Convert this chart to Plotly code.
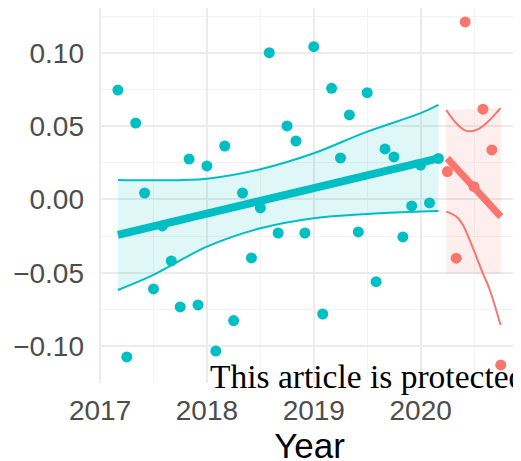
import plotly.graph_objects as go

# ---- data ----
teal_months = list(range(2, 39))  # month index from Jan 2017
teal_values = [0.0747, -0.1075, 0.0522, 0.0044, -0.0611, -0.0181, -0.0420, -0.0734,
               0.0276, -0.0720, 0.0229, -0.1035, 0.0365, -0.0827, 0.0044, -0.0399,
               -0.0058, 0.1002, -0.0229, 0.0502, 0.0399, -0.0229, 0.1043, -0.0782,
               0.0759, 0.0283, 0.0577, -0.0222, 0.0729, -0.0561, 0.0345, 0.0290,
               -0.0256, -0.0044, 0.0235, -0.0024, 0.0280]
red_months = list(range(39, 46))
red_values = [0.0190, -0.0401, 0.1212, 0.0087, 0.0616, 0.0338, -0.1130]

teal_fit_x = [2017.167, 2020.167]
teal_fit_y = [-0.0242, 0.0281]
teal_ci_x = [2017.167, 2017.5, 2018.0, 2018.5, 2019.0, 2019.5, 2020.0, 2020.167]
teal_ci_upper = [0.0133, 0.0131, 0.0142, 0.0206, 0.0315, 0.0463, 0.0589, 0.0645]
teal_ci_lower = [-0.0618, -0.0515, -0.0322, -0.0197, -0.0128, -0.0099, -0.0083, -0.0078]

red_fit_x = [2020.25, 2020.75]
red_fit_y = [0.0281, -0.0117]
red_up_x = [2020.24, 2020.334, 2020.427, 2020.521, 2020.614, 2020.748]
red_ci_upper = [0.0611, 0.0520, 0.0468, 0.0474, 0.0520, 0.0623]
red_lo_x = [2020.24, 2020.334, 2020.396, 2020.458, 2020.521, 2020.582, 2020.645, 2020.748]
red_ci_lower = [-0.0083, -0.0117, -0.0174, -0.0276, -0.0390, -0.0504, -0.0613, -0.0857]
red_band_x = [2020.24, 2020.75]
red_band_top = [0.0611, 0.0623]
red_band_bottom = [-0.0509, -0.0509]

y_tickvals = [-0.10, -0.05, 0.0, 0.05, 0.10]
y_ticktext = ["\u22120.10", "\u22120.05", "0.00", "0.05", "0.10"]
x_tickvals = [2017, 2018, 2019, 2020]
x_ticktext = ["2017", "2018", "2019", "2020"]

TEAL = "#00BFC4"
RED = "#F8766D"

teal_x = [2017 + m / 12 for m in teal_months]
red_x = [2020 + (m - 36) / 12 for m in red_months]

fig = go.Figure()

# red ribbon
fig.add_trace(go.Scatter(x=red_band_x + red_band_x[::-1],
                         y=red_band_top + red_band_bottom[::-1],
                         fill="toself", fillcolor="rgba(248,118,109,0.12)",
                         line=dict(width=0), mode="lines",
                         hoverinfo="skip", showlegend=False))

# teal CI band: lower line, then upper line filled down to it
fig.add_trace(go.Scatter(x=teal_ci_x, y=teal_ci_lower, mode="lines",
                         line=dict(color=TEAL, width=2, shape="spline"),
                         showlegend=False))
fig.add_trace(go.Scatter(x=teal_ci_x, y=teal_ci_upper, mode="lines",
                         fill="tonexty", fillcolor="rgba(0,191,196,0.12)",
                         line=dict(color=TEAL, width=2, shape="spline"),
                         showlegend=False))

# red CI lines
for xs, ys in [(red_up_x, red_ci_upper), (red_lo_x, red_ci_lower)]:
    fig.add_trace(go.Scatter(x=xs, y=ys, mode="lines",
                             line=dict(color=RED, width=2, shape="spline"),
                             showlegend=False))

# fit lines
fig.add_trace(go.Scatter(x=teal_fit_x, y=teal_fit_y, mode="lines",
                         line=dict(color=TEAL, width=8), showlegend=False))
fig.add_trace(go.Scatter(x=red_fit_x, y=red_fit_y, mode="lines",
                         line=dict(color=RED, width=7), showlegend=False))

# points
fig.add_trace(go.Scatter(x=teal_x, y=teal_values, mode="markers",
                         marker=dict(color=TEAL, size=11), showlegend=False,
                         cliponaxis=False))
fig.add_trace(go.Scatter(x=red_x, y=red_values, mode="markers",
                         marker=dict(color=RED, size=11), showlegend=False,
                         cliponaxis=False))

fig.add_annotation(text="This article is protected", xref="paper", yref="paper",
                   x=0.258, y=0.018, xanchor="left", yanchor="middle", showarrow=False,
                   font=dict(family="Liberation Serif", size=33.5, color="black"))

# page body has an 8px margin; panel spans page x 99..520, y 5..383
fig.update_layout(
    width=521, height=461,
    margin=dict(l=91, r=9, t=0, b=86),
    paper_bgcolor="white", plot_bgcolor="white",
    font=dict(family="Liberation Sans, Arial, sans-serif", color="#4D4D4D"),
    showlegend=False,
)
fig.update_xaxes(range=[2016.99, 2020.93], tickvals=x_tickvals, ticktext=x_ticktext,
                 automargin=False,
                 showgrid=True, gridcolor="#EBEBEB", gridwidth=2,
                 minor=dict(tickvals=[2017.5, 2018.5, 2019.5, 2020.5], showgrid=True,
                            gridcolor="#F3F3F3", gridwidth=1),
                 zeroline=False, showline=False, ticks="",
                 tickfont=dict(size=28, color="#4D4D4D"), ticklabelstandoff=8,
                 title=dict(text="Year", font=dict(size=35, color="black"), standoff=1))
fig.update_yaxes(range=[-0.1253, 0.1307], tickvals=y_tickvals, ticktext=y_ticktext,
                 automargin=False,
                 showgrid=True, gridcolor="#EBEBEB", gridwidth=2,
                 minor=dict(tickvals=[-0.125, -0.075, -0.025, 0.025, 0.075, 0.125],
                            showgrid=True, gridcolor="#F3F3F3", gridwidth=1),
                 zeroline=False, showline=False, ticks="",
                 tickfont=dict(size=28, color="#4D4D4D"), ticklabelstandoff=14)

fig.write_html("out.html")
